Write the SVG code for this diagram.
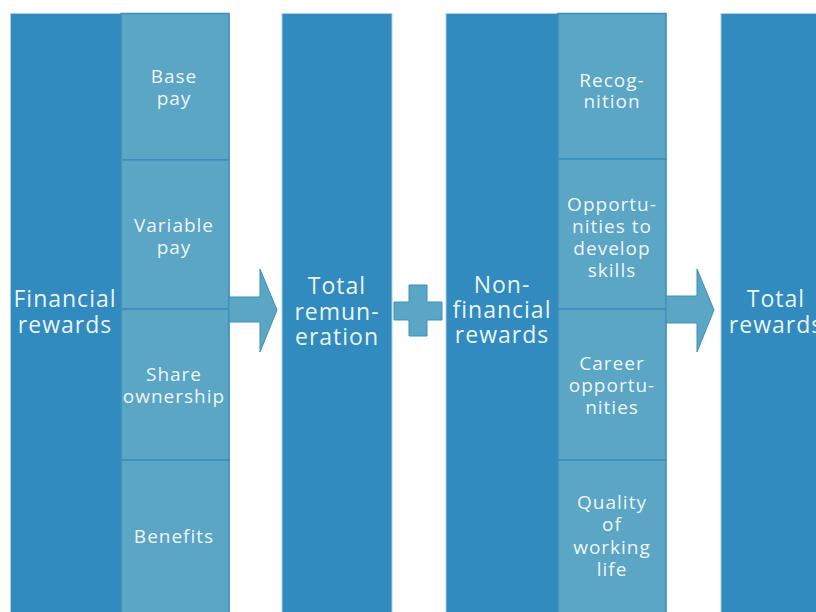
<svg xmlns="http://www.w3.org/2000/svg" width="816" height="612" viewBox="0 0 816 612">
<style>
.main{fill:#318bbe;stroke:#a9d0e6;stroke-width:1}
.sub{fill:#5ba5c5;stroke:#3a8fc0;stroke-width:1.5}
.conn{fill:#5ba5c5;stroke:#3a8fc0;stroke-width:1}
text{font-family:"Open Sans","Noto Sans",sans-serif;fill:#ffffff;fill-opacity:0.93;text-anchor:middle}
.big{font-size:23px;letter-spacing:1px}
.sm{font-size:19px;letter-spacing:1px}
</style>
<rect width="816" height="612" fill="#ffffff"/>
<g id="financial-rewards">
<rect class="main" x="10.5" y="13.5" width="219" height="610"/>
<text class="big"><tspan x="65" y="307">Financial</tspan><tspan x="65" y="333">rewards</tspan></text>
</g>
<g id="base-pay">
<rect class="sub" x="121" y="13.5" width="108" height="146.5"/>
<text class="sm"><tspan x="174" y="83">Base</tspan><tspan x="174" y="105">pay</tspan></text>
</g>
<g id="variable-pay">
<rect class="sub" x="121" y="160" width="108" height="149"/>
<text class="sm"><tspan x="174" y="232">Variable</tspan><tspan x="174" y="254">pay</tspan></text>
</g>
<g id="share-ownership">
<rect class="sub" x="121" y="309" width="108" height="151"/>
<text class="sm"><tspan x="174" y="381">Share</tspan><tspan x="174" y="403">ownership</tspan></text>
</g>
<g id="benefits">
<rect class="sub" x="121" y="460" width="108" height="163"/>
<text class="sm"><tspan x="174" y="543">Benefits</tspan></text>
</g>
<g id="total-remuneration">
<rect class="main" x="282" y="13.5" width="110" height="610"/>
<text class="big"><tspan x="337" y="294">Total</tspan><tspan x="337" y="320">remun-</tspan><tspan x="337" y="345">eration</tspan></text>
</g>
<g id="non-financial-rewards">
<rect class="main" x="446" y="13.5" width="220" height="610"/>
<text class="big"><tspan x="502" y="293">Non-</tspan><tspan x="502" y="318">financial</tspan><tspan x="502" y="343">rewards</tspan></text>
</g>
<g id="recognition">
<rect class="sub" x="558" y="13.5" width="108" height="145.5"/>
<text class="sm"><tspan x="612" y="87">Recog-</tspan><tspan x="612" y="108">nition</tspan></text>
</g>
<g id="opportunities-to-develop-skills">
<rect class="sub" x="558" y="159" width="108" height="150"/>
<text class="sm"><tspan x="612" y="211">Opportu-</tspan><tspan x="612" y="233">nities to</tspan><tspan x="612" y="255">develop</tspan><tspan x="612" y="277">skills</tspan></text>
</g>
<g id="career-opportunities">
<rect class="sub" x="558" y="309" width="108" height="151"/>
<text class="sm"><tspan x="612" y="370">Career</tspan><tspan x="612" y="392">opportu-</tspan><tspan x="612" y="414">nities</tspan></text>
</g>
<g id="quality-of-working-life">
<rect class="sub" x="558" y="460" width="108" height="163"/>
<text class="sm"><tspan x="612" y="509">Quality</tspan><tspan x="612" y="531">of</tspan><tspan x="612" y="554">working</tspan><tspan x="612" y="576">life</tspan></text>
</g>
<g id="total-rewards">
<rect class="main" x="721" y="13.5" width="110" height="610"/>
<text class="big"><tspan x="776" y="307">Total</tspan><tspan x="776" y="333">rewards</tspan></text>
</g>
<g id="connectors">
<polygon class="conn" points="229,297 260,297 260,269 277,310 260,352 260,322 229,322"/>
<polygon class="conn" points="394,302 409,302 409,285 427,285 427,302 442,302 442,320 427,320 427,336 409,336 409,320 394,320"/>
<polygon class="conn" points="666,296 697,296 697,269 714,310 697,352 697,323 666,323"/>
</g>
</svg>
